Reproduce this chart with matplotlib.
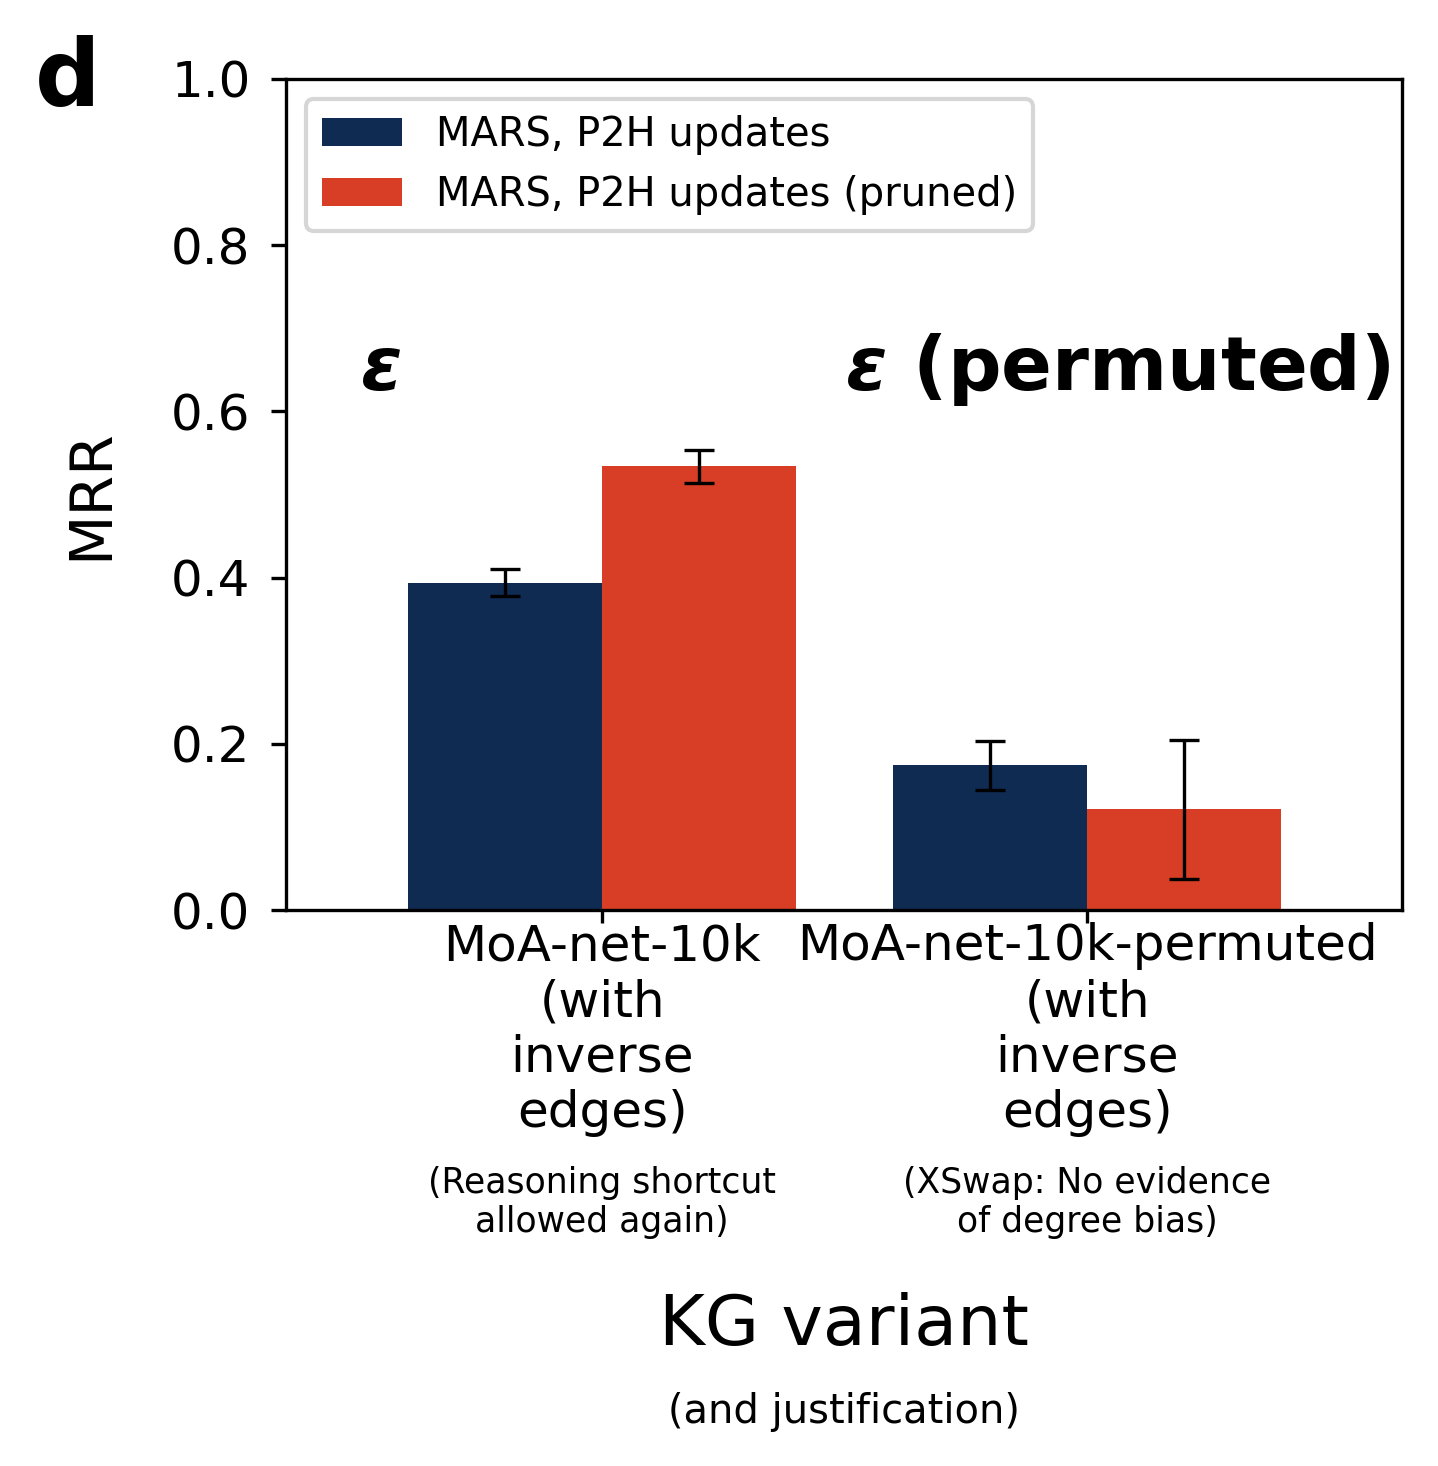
import matplotlib
matplotlib.use("Agg")
import matplotlib.pyplot as plt
import numpy as np

categories = ["MoA-net-10k\n(with\ninverse\nedges)", "MoA-net-10k-permuted\n(with\ninverse\nedges)"]
justifications = ["(Reasoning shortcut\nallowed again)", "(XSwap: No evidence\nof degree bias)"]
series_names = ["MARS, P2H updates", "MARS, P2H updates (pruned)"]
mrr_p2h = [0.394, 0.174]
err_p2h = [0.0165, 0.0295]
mrr_pruned = [0.534, 0.121]
err_pruned = [0.020, 0.084]
group_titles = [r"$\mathbfit{\varepsilon}$", r"$\mathbfit{\varepsilon}$ (permuted)"]
yticks = [0.0, 0.2, 0.4, 0.6, 0.8, 1.0]

colors = ["#0F2B52", "#D83D25"]

fig = plt.figure(figsize=(1438 / 300, 1466 / 300), dpi=300)
ax = fig.add_axes([286 / 1438, 1 - 910 / 1466, (1402 - 286) / 1438, (910 - 79) / 1466])

x = np.arange(len(categories))
w = 0.4
ekw = dict(elinewidth=0.8, capthick=0.8, ecolor="black")
ax.bar(x - w / 2, mrr_p2h, w, color=colors[0], label=series_names[0],
       yerr=err_p2h, capsize=3.5, error_kw=ekw)
ax.bar(x + w / 2, mrr_pruned, w, color=colors[1], label=series_names[1],
       yerr=err_pruned, capsize=3.5, error_kw=ekw)

ax.set_xlim(-0.652, 1.649)
ax.set_ylim(0, 1.0)
ax.set_yticks(yticks)
ax.set_yticklabels([f"{t:.1f}" for t in yticks], fontsize=12)
ax.set_xticks(x)
ax.set_xticklabels(categories, fontsize=12)
ax.tick_params(axis="x", length=3, pad=0)
ax.tick_params(axis="y", pad=5)

for i, t in enumerate(group_titles):
    ax.text(i - 0.5, 0.65, t, ha="left", va="center", fontsize=18, fontweight="bold")

for i, j in enumerate(justifications):
    ax.text(i, -0.308, j, ha="center", va="top", fontsize=8.3,
            transform=ax.get_xaxis_transform())

ax.set_ylabel("MRR", fontsize=14, labelpad=12.5)
ax.set_xlabel("KG variant", fontsize=16.8)
ax.xaxis.set_label_coords(0.5, -0.46)
ax.text(0.5, -0.58, "(and justification)", ha="center", va="top", fontsize=9.6,
        transform=ax.transAxes)

ax.legend(loc="upper left", fontsize=9.6, handletextpad=0.85)

fig.text(0.0245, 0.976, "d", fontsize=22, fontweight="bold", ha="left", va="top")

fig.savefig("out.png", dpi=300)
